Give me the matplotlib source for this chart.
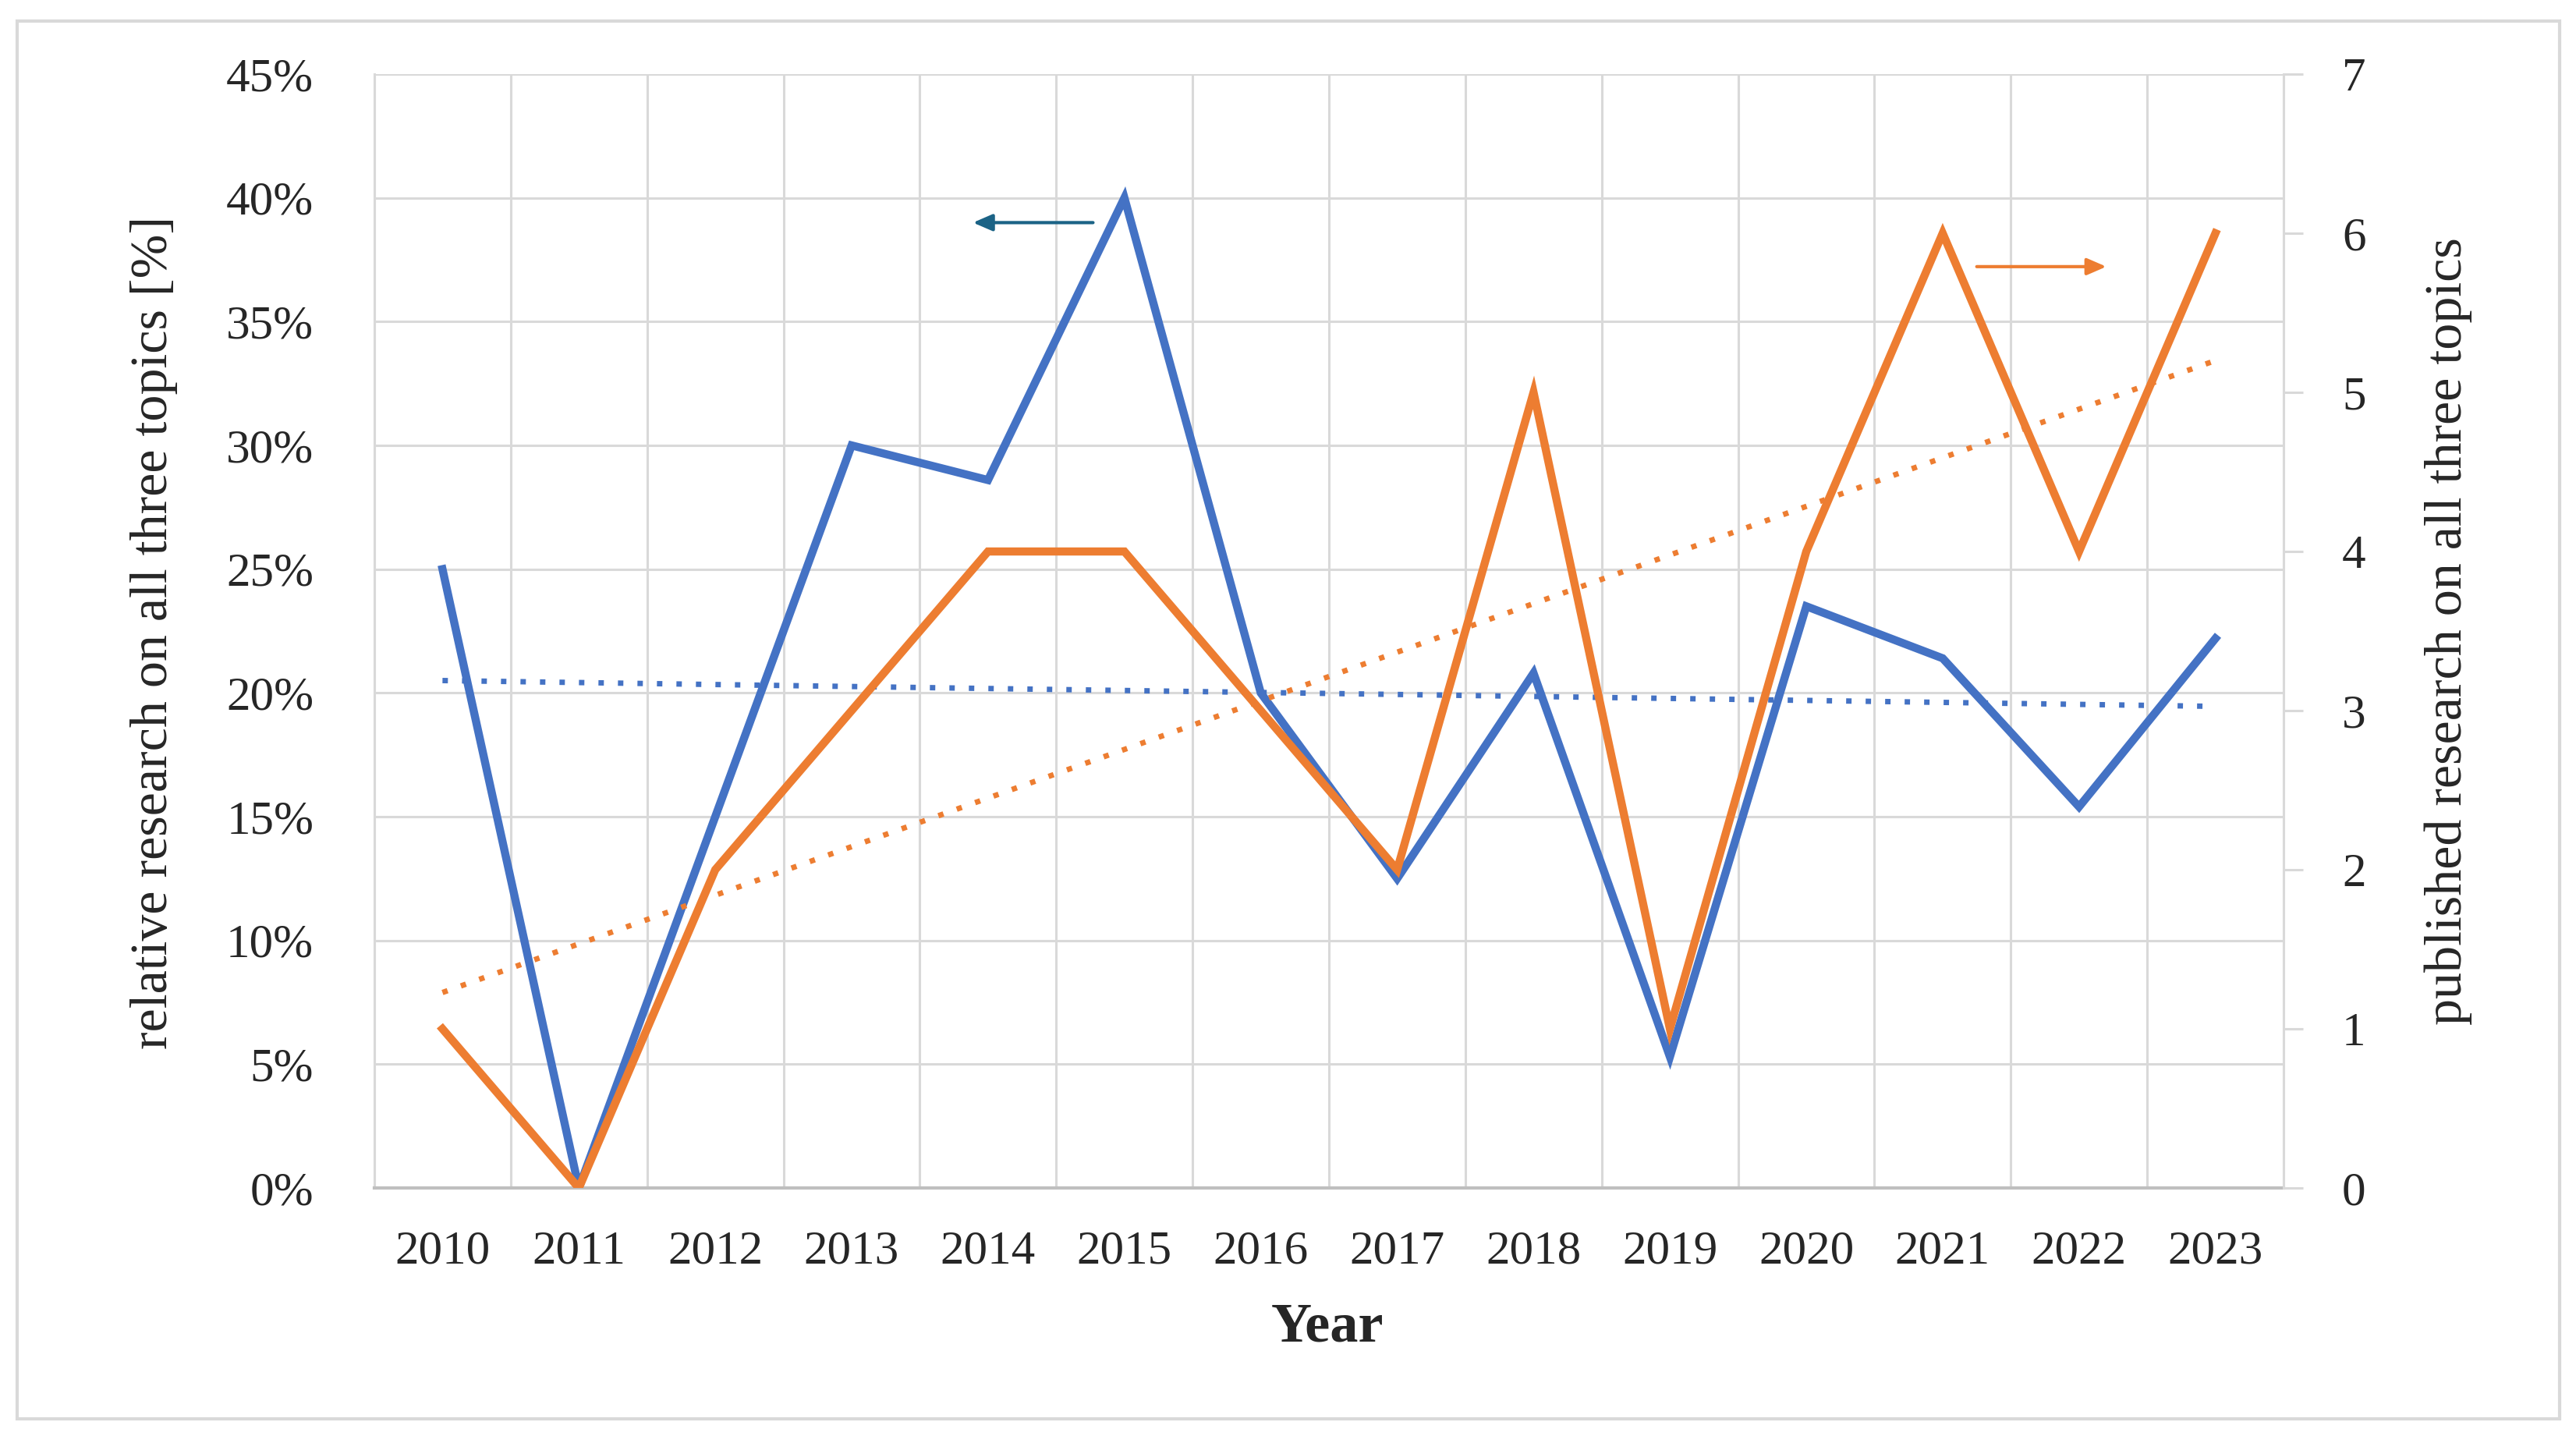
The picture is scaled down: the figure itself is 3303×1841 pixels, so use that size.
import matplotlib.pyplot as plt
import numpy as np
from matplotlib.patches import Rectangle

plt.rcParams['font.family'] = ['Liberation Serif', 'DejaVu Serif']

years = ['2010', '2011', '2012', '2013', '2014', '2015', '2016',
         '2017', '2018', '2019', '2020', '2021', '2022', '2023']
relative = [25.0, 0.0, 15.0, 30.0, 28.6, 40.0, 20.0,
            12.5, 20.8, 5.3, 23.5, 21.4, 15.4, 22.2]
published = [1, 0, 2, 3, 4, 4, 3, 2, 5, 1, 4, 6, 4, 6]

blue = '#4472C4'
orange = '#ED7D31'
grid_c = '#D9D9D9'
text_c = '#262626'

x = np.arange(len(years))

fig = plt.figure(figsize=(33.03, 18.41), dpi=100)
ax = fig.add_axes([0.1453, 0.1727, 0.7412, 0.7757])
ax2 = ax.twinx()

# gridlines
ax.set_xlim(-0.5, len(years) - 0.5)
ax.set_ylim(0, 45)
ax.set_xticks(x)
ax.set_xticks(np.arange(-0.5, len(years), 1), minor=True)
ax.set_yticks(np.arange(0, 46, 5))
ax.grid(True, which='minor', axis='x', color=grid_c, lw=2.2)
ax.grid(True, which='major', axis='y', color=grid_c, lw=2.2)
ax.set_axisbelow(True)
ax.set_xticklabels(years)
ax.set_yticklabels([f'{v}%' for v in range(0, 46, 5)])
ax.tick_params(axis='y', length=0, pad=56, labelsize=44, labelcolor=text_c)
ax.tick_params(axis='x', which='both', length=0, pad=39, labelsize=44, labelcolor=text_c)

for s in ['top', 'right']:
    ax.spines[s].set_visible(False)
ax.spines['left'].set_color(grid_c)
ax.spines['left'].set_linewidth(2.2)
ax.spines['bottom'].set_color('#BFBFBF')
ax.spines['bottom'].set_linewidth(3)

ax2.set_ylim(0, 7)
ax2.set_yticks(range(0, 8))
ax2.tick_params(axis='y', length=18, width=2.2, color=grid_c, pad=36,
                labelsize=44, labelcolor=text_c)
for s in ['top', 'left', 'bottom']:
    ax2.spines[s].set_visible(False)
ax2.spines['right'].set_color(grid_c)
ax2.spines['right'].set_linewidth(2.2)

# trend lines (linear fit of each series)
kb = np.polyfit(x, relative, 1)
ko = np.polyfit(x, published, 1)
ax.plot(x, np.polyval(kb, x), color=blue, lw=5, linestyle=(0, (1, 2.6)))
ax2.plot(x, np.polyval(ko, x), color=orange, lw=5, linestyle=(0, (1, 2.6)))

# data lines
ax.plot(x, relative, color=blue, lw=7.5, solid_joinstyle='miter')
ax2.plot(x, published, color=orange, lw=7.5, solid_joinstyle='miter')

# axis arrows
ax.annotate('', xy=(3.89, 39.0), xytext=(4.77, 39.0),
            arrowprops=dict(arrowstyle='-|>,head_length=1.5,head_width=0.65',
                            color='#1B6386', lw=3, shrinkA=0, shrinkB=0))
ax2.annotate('', xy=(12.2, 5.79), xytext=(11.25, 5.79),
             arrowprops=dict(arrowstyle='-|>,head_length=1.5,head_width=0.65',
                             color=orange, lw=3, shrinkA=0, shrinkB=0))

fig.text(0.0599, 0.5595, 'relative research on all three topics [%]',
         rotation=90, ha='center', va='center', fontsize=49, color=text_c)
fig.text(0.9503, 0.5606, 'published research on all three topics',
         rotation=90, ha='center', va='center', fontsize=49, color=text_c)
fig.text(0.5153, 0.0755, 'Year', ha='center', va='center', fontsize=52,
         fontweight='semibold', color=text_c)

fig.patches.append(Rectangle((0.0067, 0.012), 0.9870, 0.9735, transform=fig.transFigure,
                             fill=False, edgecolor=grid_c, lw=3))

fig.savefig('out.png', dpi=100, facecolor='white')
